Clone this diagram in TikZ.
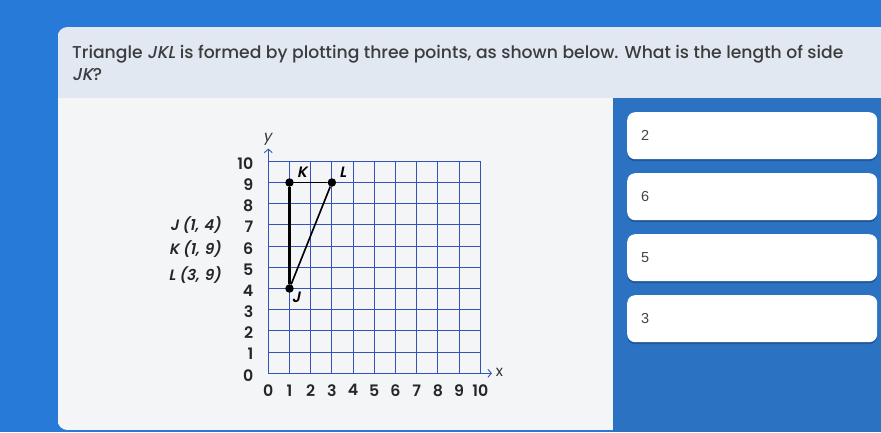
\documentclass[tikz,border=0pt]{standalone}
\usepackage{fontspec}
\IfFontExistsTF{Poppins Medium}{%
  \setmainfont{Poppins Medium}
  \newfontfamily\popit{Poppins Medium}[FakeSlant=0.2]
}{%
  \setmainfont{Poppins}
  \newfontfamily\popit{Poppins}[FakeSlant=0.2]
}
\IfFontExistsTF{Poppins SemiBold}{%
  \newfontfamily\popnum{Poppins SemiBold}
  \newfontfamily\popnumit{Poppins SemiBold}[FakeSlant=0.2]
}{%
  \newfontfamily\popnum{Poppins}[FakeBold=1.5]
  \newfontfamily\popnumit{Poppins}[FakeBold=1.5,FakeSlant=0.2]
}
\newfontfamily\popthin{Poppins}
\newfontfamily\popthinit{Poppins}[FakeSlant=0.2]
\newfontfamily\arialf{Liberation Sans}
\usetikzlibrary{arrows.meta,shadows}
\definecolor{bgblue}{HTML}{277AD8}
\definecolor{panelblue}{HTML}{2C72C3}
\definecolor{headbg}{HTML}{E1E8F2}
\definecolor{leftbg}{HTML}{F4F5F7}
\definecolor{txt}{HTML}{3C3C3C}
\definecolor{gridc}{HTML}{3453BA}
\definecolor{shadowc}{HTML}{163F70}
\definecolor{anstxt}{HTML}{444444}
\tikzset{
  qtext/.style={anchor=base west, inner sep=0pt, text=txt, font=\fontsize{17.2}{22}\selectfont},
  gridline/.style={draw=gridc, line width=0.9pt},
  axisarrow/.style={draw=gridc, line width=0.9pt, -{Straight Barb[length=3.5pt,width=8pt]}},
  numlab/.style={inner sep=0pt, text=black!85, font=\popnum\fontsize{15.8}{18}\selectfont},
  ptlab/.style={inner sep=0pt, text=black, font=\popnumit\fontsize{15}{18}\selectfont},
  coordlab/.style={inner sep=0pt, anchor=east, text=black!85, font=\popnumit\fontsize{15}{18}\selectfont},
  dot/.style={circle, fill=black, inner sep=0pt, minimum size=8.5pt},
  tri/.style={draw=black, line width=1.6pt},
  ansbox/.style={fill=white, rounded corners=8pt, anchor=north west, minimum width=250pt, minimum height=47pt, inner sep=0pt,
    drop shadow={shadow xshift=0pt, shadow yshift=-2pt, opacity=0.5, fill=shadowc}},
  anstext/.style={anchor=west, inner sep=0pt, text=anstxt, font=\arialf\fontsize{14.5}{16}\selectfont},
}
\begin{document}
\begin{tikzpicture}[x=1pt,y=-1pt]
\useasboundingbox (0,0) rectangle (881,432);
\fill[bgblue] (0,0) rectangle (881,432);
\fill[panelblue] (613,98) rectangle (881,432);
\begin{scope}
  \clip[rounded corners=10pt] (57.5,27) rectangle (920,430);
  \fill[headbg] (57.5,27) rectangle (920,98);
  \fill[leftbg] (57.5,98) rectangle (613,430);
\end{scope}
\node[qtext] (q1) at (72,58) {Triangle {\popit JKL} is formed by plotting three points, as shown below. What is the length of side};
\node[qtext] (q2) at (72,80) {{\popit JK}?};

\begin{scope}[shift={(268.3,373.3)}, x=21.2pt, y=21.2pt]
  \draw[gridline] (0,0) grid[step=1] (10,10);
  \coordinate (ytop) at (0,10);
  \coordinate (ytip) at (0,10.6);
  \coordinate (xend) at (10,0);
  \coordinate (xtip) at (10.55,0);
  \draw[axisarrow] (ytop) -- (ytip);
  \draw[axisarrow] (xend) -- (xtip);
  \node[inner sep=0pt, text=black!80, font=\popthinit\fontsize{15}{18}\selectfont] (ylab) at (-0.05,11.05) {y};
  \node[inner sep=0pt, text=black!80, font=\popthin\fontsize{15}{18}\selectfont] (xlab) at (10.9,0.05) {x};
  \foreach \k in {0,...,10} {
    \node[numlab, anchor=east] (yl\k) at (-0.7,\k-0.1) {\k};
    \node[numlab] (xl\k) at (\k,-0.8) {\k};
  }
  \node[dot] (J) at (1,4) {};
  \node[dot] (K) at (1,9) {};
  \node[dot] (L) at (3,9) {};
  \draw[tri, line width=2.2pt] (J) -- (K);
  \draw[tri] (K) -- (L);
  \draw[tri] (L) -- (J);
  \node[ptlab] (Kl) at (1.59,9.5) {K};
  \node[ptlab] (Ll) at (3.52,9.5) {L};
  \node[ptlab] (Jl) at (1.31,3.6) {J};
  \node[coordlab] (cJ) at (-2.23,7.0) {J (1,\,\,4)};
  \node[coordlab] (cK) at (-2.23,5.85) {K (1,\,\,9)};
  \node[coordlab] (cL) at (-2.23,4.65) {L (3,\,\,9)};
\end{scope}

\foreach \i/\t/\y in {1/2/112,2/6/173,3/5/234,4/3/295} {
  \node[ansbox] (a\i) at (627,\y) {};
  \node[anstext] (t\i) at ([xshift=14pt]a\i.west) {\t};
}
\end{tikzpicture}
\end{document}
